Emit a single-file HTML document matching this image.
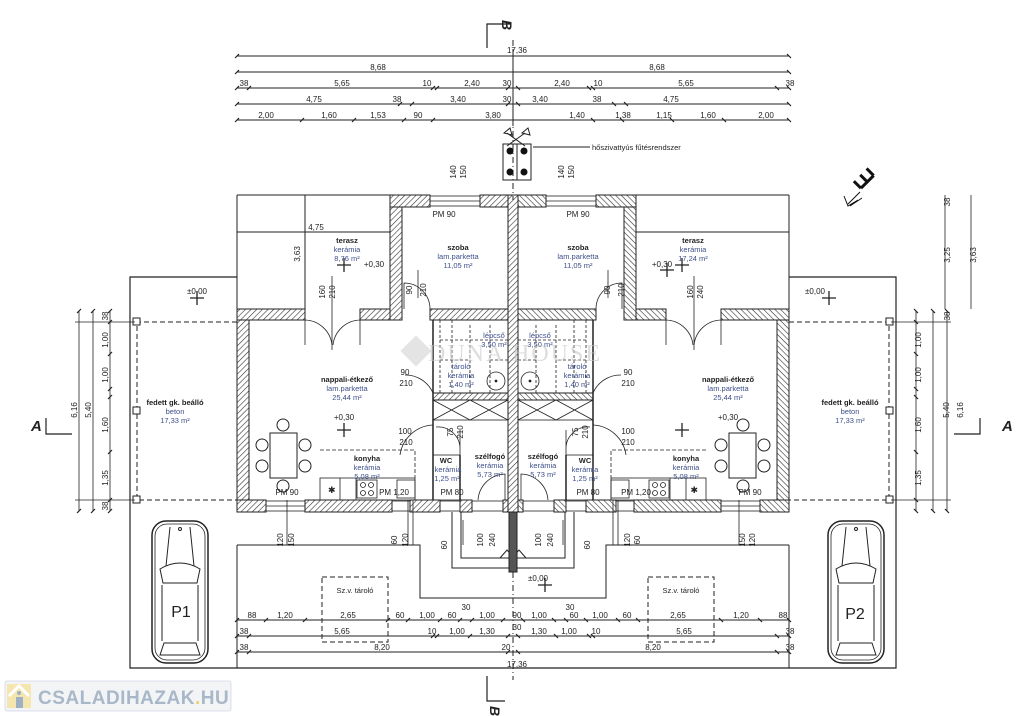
<!DOCTYPE html>
<html><head><meta charset="utf-8"><style>
html,body{margin:0;padding:0;background:#fff;width:1024px;height:716px;overflow:hidden}
svg{display:block}
text{font-family:"Liberation Sans",sans-serif;fill:#222}
.d{font-size:8px;text-anchor:middle}
.r{font-size:7.5px;text-anchor:middle;font-weight:bold}
.s{font-size:7.5px;text-anchor:middle;fill:#3d4f8a}
</style></head><body>
<svg width="1024" height="716" viewBox="0 0 1024 716" xmlns="http://www.w3.org/2000/svg">
<defs>
<pattern id="h" width="4" height="4" patternUnits="userSpaceOnUse" patternTransform="rotate(45)">
<rect width="4" height="4" fill="#fff"/><line x1="0" y1="0" x2="0" y2="4" stroke="#333" stroke-width="1.2"/></pattern>
<g id="tick"><line x1="-2" y1="2" x2="2" y2="-2" stroke="#222" stroke-width="1.2"/></g>
<g id="car">
<rect x="0" y="0" width="56" height="142" rx="14" fill="none" stroke="#222" stroke-width="1.5"/>
<rect x="3" y="3" width="50" height="136" rx="12" fill="none" stroke="#222" stroke-width="0.8"/>
<path d="M8 48 Q28 36 48 48 L45 62 L11 62 Z" fill="none" stroke="#222"/>
<path d="M18 6 L14 45 M38 6 L42 45" stroke="#222" fill="none"/>
<path d="M10 64 L10 120 M46 64 L46 120 M12 122 L44 122 L48 134 L8 134 Z" stroke="#222" fill="none"/>
<circle cx="28" cy="8" r="1.5" fill="none" stroke="#222"/>
</g>
<g id="chair"><circle r="6" fill="#fff" stroke="#222"/></g>
<g id="half">
<path d="M237 277 H130 V668 H513" fill="none" stroke="#222" stroke-width="1.2"/>
<path d="M237 195 H390 M237 195 V309" fill="none" stroke="#222"/>
<path d="M237 545 H420 V598 H513" fill="none" stroke="#222"/>
<path d="M237 545 V668" fill="none" stroke="#222"/>
<path d="M452 512 V568 H509 M461 512 V558 H509" fill="none" stroke="#222"/>
<path d="M500 558 L507 550 L514 558" fill="none" stroke="#222"/>
<path d="M237 322 H137 V500 H237" fill="none" stroke="#222" stroke-dasharray="5,3"/>
<rect x="133" y="318" width="7" height="7" fill="#fff" stroke="#222"/>
<rect x="133" y="407" width="7" height="7" fill="#fff" stroke="#222"/>
<rect x="133" y="496" width="7" height="7" fill="#fff" stroke="#222"/>
<g fill="url(#h)" stroke="#222" stroke-width="1">
<rect x="237" y="309" width="12" height="203"/>
<rect x="237" y="309" width="68" height="11"/>
<rect x="360" y="309" width="42" height="11"/>
<rect x="390" y="195" width="12" height="125"/>
<rect x="390" y="195" width="40" height="12"/>
<rect x="480" y="195" width="28" height="12"/>
<rect x="430" y="309" width="78" height="11"/>
<rect x="433" y="393" width="75" height="7"/>
<rect x="237" y="500" width="29" height="12"/>
<rect x="305" y="500" width="87" height="12"/>
<rect x="410" y="500" width="30" height="12"/>
<rect x="460" y="500" width="12" height="12"/>
<rect x="503" y="500" width="6" height="12"/>
</g>
<g fill="none" stroke="#222" stroke-width="0.8">
<rect x="430" y="196" width="50" height="10"/><line x1="430" y1="201" x2="480" y2="201"/>
<rect x="266" y="501" width="39" height="10"/><line x1="266" y1="506" x2="305" y2="506"/>
<rect x="392" y="501" width="18" height="10"/>
<rect x="440" y="501" width="20" height="10"/>
<rect x="472" y="501" width="31" height="10"/>
<path d="M305 320 A28 28 0 0 1 332 345 M305 320 V345 M360 320 A28 28 0 0 0 333 345 M360 320 V345"/>
<line x1="332" y1="276" x2="332" y2="350"/>
<path d="M404 309 V283 A26 26 0 0 1 430 309"/>
<line x1="418" y1="270" x2="418" y2="298"/>
<line x1="433" y1="320" x2="433" y2="500" stroke-width="1.5"/>
<rect x="433" y="400" width="75" height="20"/>
<path d="M433 400 L470 420 M470 400 L433 420 M470 400 L508 420 M508 400 L470 420"/>
<rect x="433" y="455" width="27" height="45"/>
<line x1="460" y1="455" x2="460" y2="500" stroke-width="1.5"/>
<path d="M440 320 V393 M452 320 V393 M470 325 V393 M490 325 V393 M440 340 H508 M440 360 H470 M490 360 H508" stroke-dasharray="3,2"/>
<circle cx="496" cy="381" r="9"/><circle cx="496" cy="381" r="1" fill="#222"/>
<path d="M433 425 A35 35 0 0 0 400 455 M433 393 A30 30 0 0 0 405 375"/>
<path d="M460 430 V460 M436 427 A22 22 0 0 1 460 450"/>
<path d="M478 500 A28 28 0 0 1 505 474 V500"/>
<path d="M320 450 H415 V478" stroke-dasharray="4,2"/>
<rect x="320" y="478" width="95" height="22"/>
<line x1="340" y1="478" x2="340" y2="500"/><line x1="356" y1="478" x2="356" y2="500"/>
<rect x="357" y="480" width="20" height="18"/>
<circle cx="363" cy="485" r="2.5"/><circle cx="371" cy="485" r="2.5"/><circle cx="363" cy="493" r="2.5"/><circle cx="371" cy="493" r="2.5"/>
<rect x="397" y="480" width="18" height="18"/>
<rect x="270" y="433" width="27" height="45"/>
</g>
<use href="#chair" x="283" y="425"/><use href="#chair" x="283" y="486"/>
<use href="#chair" x="262" y="445"/><use href="#chair" x="262" y="466"/>
<use href="#chair" x="305" y="445"/><use href="#chair" x="305" y="466"/>
<rect x="270" y="433" width="27" height="45" fill="#fff" stroke="#222"/>
<text x="328" y="493" style="font-size:9px">✱</text>
<g stroke="#222" stroke-width="0.8">
<line x1="79" y1="311" x2="79" y2="511"/><line x1="93" y1="311" x2="93" y2="511"/><line x1="110" y1="311" x2="110" y2="511"/>
<line x1="75" y1="322" x2="135" y2="322"/><line x1="75" y1="500" x2="135" y2="500"/>
</g>
<g stroke="#222" stroke-width="0.9">
<line x1="237" y1="56" x2="513" y2="56"/><line x1="237" y1="72" x2="513" y2="72"/>
<line x1="237" y1="88" x2="513" y2="88"/><line x1="237" y1="104" x2="513" y2="104"/>
<line x1="237" y1="120" x2="513" y2="120"/>
<line x1="237" y1="620" x2="513" y2="620"/><line x1="237" y1="636" x2="513" y2="636"/><line x1="237" y1="652" x2="513" y2="652"/>
<line x1="237" y1="232" x2="390" y2="232"/>
</g>
<g>
<use href="#tick" x="237" y="56"/><use href="#tick" x="237" y="72"/><use href="#tick" x="237" y="88"/><use href="#tick" x="249" y="88"/><use href="#tick" x="433" y="88"/><use href="#tick" x="437" y="88"/><use href="#tick" x="508" y="88"/>
<use href="#tick" x="237" y="104"/><use href="#tick" x="400" y="104"/><use href="#tick" x="412" y="104"/><use href="#tick" x="508" y="104"/>
<use href="#tick" x="237" y="120"/><use href="#tick" x="302" y="120"/><use href="#tick" x="354" y="120"/><use href="#tick" x="404" y="120"/><use href="#tick" x="433" y="120"/>
<use href="#tick" x="237" y="620"/><use href="#tick" x="266" y="620"/><use href="#tick" x="305" y="620"/><use href="#tick" x="388" y="620"/><use href="#tick" x="408" y="620"/><use href="#tick" x="440" y="620"/><use href="#tick" x="460" y="620"/><use href="#tick" x="472" y="620"/><use href="#tick" x="503" y="620"/>
<use href="#tick" x="237" y="636"/><use href="#tick" x="249" y="636"/><use href="#tick" x="433" y="636"/><use href="#tick" x="437" y="636"/><use href="#tick" x="470" y="636"/><use href="#tick" x="508" y="636"/>
<use href="#tick" x="237" y="652"/><use href="#tick" x="249" y="652"/><use href="#tick" x="508" y="652"/>
<use href="#tick" x="79" y="311"/><use href="#tick" x="79" y="511"/><use href="#tick" x="93" y="311"/><use href="#tick" x="93" y="511"/><use href="#tick" x="110" y="311"/><use href="#tick" x="110" y="322"/><use href="#tick" x="110" y="354"/><use href="#tick" x="110" y="389"/><use href="#tick" x="110" y="397"/><use href="#tick" x="110" y="452"/><use href="#tick" x="110" y="500"/><use href="#tick" x="110" y="511"/>
</g>
<path d="M46 418 V434 H72" fill="none" stroke="#222" stroke-width="1.2"/>
<path d="M190 298 h14 M197 291 v14 M337 265 h14 M344 258 v14 M337 430 h14 M344 423 v14" stroke="#222" stroke-width="1.3"/>
<path d="M287 500 V545 M408 500 V545 M413 500 V545 M463 520 V545" stroke="#222" stroke-width="0.8"/>
</g>
</defs>

<use href="#half"/>
<use href="#half" transform="translate(1026,0) scale(-1,1)"/>

<line x1="305" y1="195" x2="305" y2="309" stroke="#222"/>
<rect x="508" y="195" width="10" height="317" fill="url(#h)" stroke="#222"/>
<rect x="509" y="512" width="8" height="60" fill="#555" stroke="#222"/>
<line x1="513" y1="40" x2="513" y2="200" stroke="#222" stroke-dasharray="6,3,1,3"/>
<line x1="513" y1="572" x2="513" y2="680" stroke="#222" stroke-dasharray="6,3,1,3"/>
<line x1="513" y1="50" x2="513" y2="126" stroke="#222"/>

<path d="M510 24 H487 V48" fill="none" stroke="#222" stroke-width="1.2"/>
<path d="M487 676 V701 H505" fill="none" stroke="#222" stroke-width="1.2"/>
<text x="0" y="0" transform="translate(502,20) rotate(90)" style="font-size:14px;font-weight:bold;font-style:italic">B</text>
<text x="0" y="0" transform="translate(490,706) rotate(90)" style="font-size:14px;font-weight:bold;font-style:italic">B</text>
<text x="31" y="431" style="font-size:15px;font-weight:bold;font-style:italic">A</text>
<text x="1002" y="431" style="font-size:15px;font-weight:bold;font-style:italic">A</text>

<g stroke="#222" fill="none">
<rect x="503" y="144" width="14" height="36"/><rect x="517" y="144" width="14" height="36"/>
<path d="M507 133 L525 146 M525 133 L507 146 M504 133 L510 128 L512 135 Z M522 133 L528 128 L530 135 Z"/>
<line x1="533" y1="147" x2="590" y2="147"/>
</g>
<circle cx="510" cy="151" r="3.5" fill="#111"/><circle cx="524" cy="151" r="3.5" fill="#111"/>
<circle cx="510" cy="172" r="3.5" fill="#111"/><circle cx="524" cy="172" r="3.5" fill="#111"/>
<text x="592" y="150" style="font-size:7.5px">hőszivattyús fűtésrendszer</text>

<!-- compass -->
<g stroke="#111" fill="none">
<g transform="translate(868,184) rotate(-45)">
<path d="M-8 -2 H10 M-8 -2 V-12 M1 -2 V-12 M10 -2 V-12" stroke-width="3"/>
</g>
<path d="M860 192 L848 204 M844 196 L848 206 L858 200 M850 206 L862 198" stroke-width="1"/>
</g>

<use href="#car" x="152" y="521"/>
<use href="#car" x="828" y="521"/>
<text x="181" y="617" style="font-size:16px;text-anchor:middle">P1</text>
<text x="855" y="619" style="font-size:16px;text-anchor:middle">P2</text>

<g stroke="#222" stroke-width="0.8">
<line x1="945" y1="195" x2="945" y2="309"/><line x1="971" y1="195" x2="971" y2="309"/>
</g>
<text class="d" transform="translate(950,255) rotate(-90)">3,25</text>
<text class="d" transform="translate(976,255) rotate(-90)">3,63</text>
<text class="d" transform="translate(950,202) rotate(-90)">38</text>
<text class="d" transform="translate(950,316) rotate(-90)">38</text>

<text class="d" transform="translate(77,410) rotate(-90)">6,16</text>
<text class="d" transform="translate(91,410) rotate(-90)">5,40</text>
<text class="d" transform="translate(108,340) rotate(-90)">1,00</text>
<text class="d" transform="translate(108,375) rotate(-90)">1,00</text>
<text class="d" transform="translate(108,425) rotate(-90)">1,60</text>
<text class="d" transform="translate(108,478) rotate(-90)">1,35</text>
<text class="d" transform="translate(108,316) rotate(-90)">38</text>
<text class="d" transform="translate(108,506) rotate(-90)">38</text>
<text class="d" transform="translate(949,410) rotate(-90)">5,40</text>
<text class="d" transform="translate(963,410) rotate(-90)">6,16</text>
<text class="d" transform="translate(921,340) rotate(-90)">1,00</text>
<text class="d" transform="translate(921,375) rotate(-90)">1,00</text>
<text class="d" transform="translate(921,425) rotate(-90)">1,60</text>
<text class="d" transform="translate(921,478) rotate(-90)">1,35</text>

<g class="d">
<text class="d" x="517" y="53">17,36</text>
<text class="d" x="378" y="70">8,68</text><text class="d" x="657" y="70">8,68</text>
<text class="d" x="244" y="86">38</text><text class="d" x="342" y="86">5,65</text><text class="d" x="427" y="86">10</text><text class="d" x="472" y="86">2,40</text><text class="d" x="507" y="86">30</text>
<text class="d" x="562" y="86">2,40</text><text class="d" x="598" y="86">10</text><text class="d" x="686" y="86">5,65</text><text class="d" x="790" y="86">38</text>
<text class="d" x="314" y="102">4,75</text><text class="d" x="397" y="102">38</text><text class="d" x="458" y="102">3,40</text><text class="d" x="507" y="102">30</text>
<text class="d" x="540" y="102">3,40</text><text class="d" x="597" y="102">38</text><text class="d" x="671" y="102">4,75</text>
<text class="d" x="266" y="118">2,00</text><text class="d" x="329" y="118">1,60</text><text class="d" x="378" y="118">1,53</text><text class="d" x="418" y="118">90</text><text class="d" x="493" y="118">3,80</text>
<text class="d" x="577" y="118">1,40</text><text class="d" x="623" y="118">1,38</text><text class="d" x="664" y="118">1,15</text><text class="d" x="708" y="118">1,60</text><text class="d" x="766" y="118">2,00</text>
<text class="d" x="316" y="230">4,75</text>
<text class="d" x="252" y="618" fill="#8a4a1a">88</text><text class="d" x="285" y="618">1,20</text><text class="d" x="348" y="618">2,65</text><text class="d" x="400" y="618">60</text><text class="d" x="427" y="618">1,00</text><text class="d" x="452" y="618">60</text><text class="d" x="487" y="618">1,00</text><text class="d" x="517" y="618">90</text>
<text class="d" x="539" y="618">1,00</text><text class="d" x="574" y="618">60</text><text class="d" x="600" y="618">1,00</text><text class="d" x="627" y="618">60</text><text class="d" x="678" y="618">2,65</text><text class="d" x="741" y="618">1,20</text><text class="d" x="783" y="618">88</text>
<text class="d" x="466" y="610">30</text><text class="d" x="570" y="610">30</text>
<text class="d" x="244" y="634">38</text><text class="d" x="342" y="634">5,65</text><text class="d" x="432" y="634">10</text><text class="d" x="457" y="634">1,00</text><text class="d" x="487" y="634">1,30</text><text class="d" x="517" y="630">30</text>
<text class="d" x="539" y="634">1,30</text><text class="d" x="569" y="634">1,00</text><text class="d" x="596" y="634">10</text><text class="d" x="684" y="634">5,65</text><text class="d" x="790" y="634">38</text>
<text class="d" x="244" y="650">38</text><text class="d" x="382" y="650">8,20</text><text class="d" x="506" y="650">20</text><text class="d" x="653" y="650">8,20</text><text class="d" x="790" y="650">38</text>
<text class="d" x="517" y="667">17,36</text>
</g>

<g>
<text class="d" transform="translate(456,172) rotate(-90)">140</text><text class="d" transform="translate(466,172) rotate(-90)">150</text>
<text class="d" transform="translate(564,172) rotate(-90)">140</text><text class="d" transform="translate(574,172) rotate(-90)">150</text>
<text class="d" transform="translate(325,292) rotate(-90)">160</text><text class="d" transform="translate(335,292) rotate(-90)">210</text>
<text class="d" transform="translate(300,254) rotate(-90)">3,63</text>
<text class="d" transform="translate(693,292) rotate(-90)">160</text><text class="d" transform="translate(703,292) rotate(-90)">240</text>
<text class="d" transform="translate(412,290) rotate(-90)">90</text><text class="d" transform="translate(426,290) rotate(-90)">210</text>
<text class="d" transform="translate(610,290) rotate(-90)">90</text><text class="d" transform="translate(624,290) rotate(-90)">210</text>
<text class="d" transform="translate(283,540) rotate(-90)">120</text><text class="d" transform="translate(294,540) rotate(-90)">150</text>
<text class="d" transform="translate(397,540) rotate(-90)">60</text><text class="d" transform="translate(408,540) rotate(-90)">120</text>
<text class="d" transform="translate(447,545) rotate(-90)">60</text>
<text class="d" transform="translate(483,540) rotate(-90)">100</text><text class="d" transform="translate(495,540) rotate(-90)">240</text>
<text class="d" transform="translate(541,540) rotate(-90)">100</text><text class="d" transform="translate(553,540) rotate(-90)">240</text>
<text class="d" transform="translate(590,545) rotate(-90)">60</text>
<text class="d" transform="translate(630,540) rotate(-90)">120</text><text class="d" transform="translate(640,540) rotate(-90)">60</text>
<text class="d" transform="translate(745,540) rotate(-90)">150</text><text class="d" transform="translate(755,540) rotate(-90)">120</text>
<text class="d" transform="translate(453,432) rotate(-90)">75</text><text class="d" transform="translate(463,432) rotate(-90)">210</text>
<text class="d" transform="translate(578,432) rotate(-90)">75</text><text class="d" transform="translate(588,432) rotate(-90)">210</text>
</g>
<text class="d" x="405" y="375">90</text><text class="d" x="406" y="386">210</text>
<text class="d" x="628" y="375">90</text><text class="d" x="628" y="386">210</text>
<text class="d" x="405" y="434">100</text><text class="d" x="406" y="445">210</text>
<text class="d" x="628" y="434">100</text><text class="d" x="628" y="445">210</text>
<text class="d" x="444" y="217">PM 90</text><text class="d" x="578" y="217">PM 90</text>
<text class="d" x="287" y="495">PM 90</text><text class="d" x="394" y="495">PM 1,20</text><text class="d" x="452" y="495">PM 80</text>
<text class="d" x="588" y="495">PM 80</text><text class="d" x="636" y="495">PM 1,20</text><text class="d" x="750" y="495">PM 90</text>

<text class="d" x="197" y="294">±0,00</text><text class="d" x="815" y="294">±0,00</text>
<text class="d" x="374" y="267">+0,30</text><text class="d" x="662" y="267">+0,30</text>
<text class="d" x="344" y="420">+0,30</text><text class="d" x="728" y="420">+0,30</text>
<text class="d" x="538" y="581">±0,00</text>
<path d="M660 270 h14 M667 263 v14 M538 585 h14 M545 578 v14" stroke="#222" stroke-width="1.3"/>

<text class="r" x="347" y="243">terasz</text><text class="s" x="347" y="252">kerámia</text><text class="s" x="347" y="261">8,76 m²</text>
<text class="r" x="693" y="243">terasz</text><text class="s" x="693" y="252">kerámia</text><text class="s" x="693" y="261">17,24 m²</text>
<text class="r" x="458" y="250">szoba</text><text class="s" x="458" y="259">lam.parketta</text><text class="s" x="458" y="268">11,05 m²</text>
<text class="r" x="578" y="250">szoba</text><text class="s" x="578" y="259">lam.parketta</text><text class="s" x="578" y="268">11,05 m²</text>
<text class="r" x="347" y="382">nappali-étkező</text><text class="s" x="347" y="391">lam.parketta</text><text class="s" x="347" y="400">25,44 m²</text>
<text class="r" x="728" y="382">nappali-étkező</text><text class="s" x="728" y="391">lam.parketta</text><text class="s" x="728" y="400">25,44 m²</text>
<text class="r" x="175" y="405">fedett gk. beálló</text><text class="s" x="175" y="414">beton</text><text class="s" x="175" y="423">17,33 m²</text>
<text class="r" x="850" y="405">fedett gk. beálló</text><text class="s" x="850" y="414">beton</text><text class="s" x="850" y="423">17,33 m²</text>
<text class="r" x="367" y="461">konyha</text><text class="s" x="367" y="470">kerámia</text><text class="s" x="367" y="479">5,08 m²</text>
<text class="r" x="686" y="461">konyha</text><text class="s" x="686" y="470">kerámia</text><text class="s" x="686" y="479">5,08 m²</text>
<text class="r" x="446" y="463">WC</text><text class="s" x="448" y="472">kerámia</text><text class="s" x="447" y="481">1,25 m²</text>
<text class="r" x="585" y="463">WC</text><text class="s" x="585" y="472">kerámia</text><text class="s" x="585" y="481">1,25 m²</text>
<text class="r" x="490" y="459">szélfogó</text><text class="s" x="490" y="468">kerámia</text><text class="s" x="490" y="477">5,73 m²</text>
<text class="r" x="543" y="459">szélfogó</text><text class="s" x="543" y="468">kerámia</text><text class="s" x="543" y="477">5,73 m²</text>
<text class="s" x="494" y="338">lépcső</text><text class="s" x="494" y="347">3,50 m²</text>
<text class="s" x="540" y="338">lépcső</text><text class="s" x="540" y="347">3,50 m²</text>
<text class="s" x="461" y="369">tároló</text><text class="s" x="461" y="378">kerámia</text><text class="s" x="461" y="387">1,40 m²</text>
<text class="s" x="577" y="369">tároló</text><text class="s" x="577" y="378">kerámia</text><text class="s" x="577" y="387">1,40 m²</text>
<rect x="322" y="577" width="66" height="65" fill="none" stroke="#222" stroke-dasharray="5,3"/>
<rect x="648" y="577" width="66" height="65" fill="none" stroke="#222" stroke-dasharray="5,3"/>
<text x="355" y="593" style="font-size:7.5px;text-anchor:middle">Sz.v. tároló</text>
<text x="681" y="593" style="font-size:7.5px;text-anchor:middle">Sz.v. tároló</text>

<text x="515" y="361" style="font-size:24px;font-family:'Liberation Serif',serif;fill:#c8c8c8;opacity:0.6;letter-spacing:2px;text-anchor:middle">DUNA HOUSE</text>
<rect x="405" y="340" width="22" height="22" transform="rotate(45 416 351)" fill="#bbb" opacity="0.4"/>

<rect x="5" y="681" width="226" height="30" fill="#f2f4f6" stroke="#dde" rx="2"/>
<rect x="7" y="684" width="24" height="24" fill="#f5e6b0"/>
<path d="M9 696 L19 686 L29 696" fill="none" stroke="#fff" stroke-width="3"/>
<rect x="16" y="697" width="7" height="11" fill="#9fb0c4"/>
<circle cx="19" cy="693" r="2" fill="#9fb0c4"/>
<text x="38" y="704" style="font-size:19px;font-weight:bold;fill:#a9b8c8;letter-spacing:0.5px">CSALADIHAZAK<tspan fill="#f0d070">.</tspan>HU</text>
</svg>
</body></html>
